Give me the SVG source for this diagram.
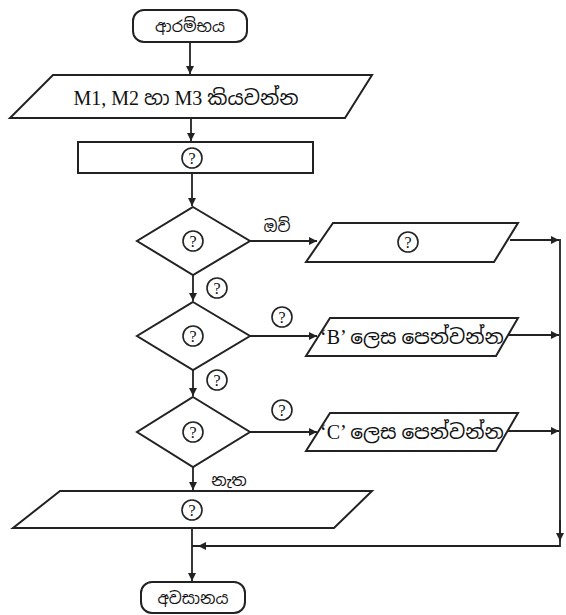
<svg xmlns="http://www.w3.org/2000/svg" width="566" height="615" viewBox="0 0 566 615">
<style>
.s{fill:#fff;stroke:#222;stroke-width:2}
.c{fill:none;stroke:#222;stroke-width:1.8}
.q{fill:none;stroke:#222;stroke-width:1.6}
.t{font-family:"Noto Sans Sinhala","Noto Serif Sinhala","Iskoola Pota","Liberation Serif",serif;fill:#111;text-anchor:middle;dominant-baseline:central}
.m{font-family:"Liberation Serif","Noto Sans Sinhala",serif;font-size:20px;fill:#111;text-anchor:middle;dominant-baseline:central}
.qt{font-family:"Liberation Serif",serif;font-size:16px;fill:#111;text-anchor:middle;dominant-baseline:central}
</style>
<defs>
<marker id="ah" viewBox="0 0 10 10" refX="10" refY="5" markerWidth="8" markerHeight="8" orient="auto" markerUnits="userSpaceOnUse">
<path d="M0,0 L10,5 L0,10 Z" fill="#222"/>
</marker>
<g id="qm"><circle r="10" class="q"/><text class="qt" y="0.5">?</text></g>
</defs>
<rect width="566" height="615" fill="#fff"/>
<g id="connectors">
<line class="c" x1="190" y1="42" x2="190" y2="74" marker-end="url(#ah)"/>
<line class="c" x1="191" y1="119" x2="191" y2="141" marker-end="url(#ah)"/>
<line class="c" x1="192" y1="173" x2="192" y2="206" marker-end="url(#ah)"/>
<line class="c" x1="193" y1="275" x2="193" y2="301" marker-end="url(#ah)"/>
<line class="c" x1="193" y1="370" x2="193" y2="396" marker-end="url(#ah)"/>
<line class="c" x1="193" y1="467" x2="193" y2="490" marker-end="url(#ah)"/>
<line class="c" x1="192" y1="528" x2="192" y2="581" marker-end="url(#ah)"/>
<line class="c" x1="250" y1="241" x2="317" y2="241" marker-end="url(#ah)"/>
<line class="c" x1="250" y1="336" x2="317" y2="336" marker-end="url(#ah)"/>
<line class="c" x1="250" y1="432" x2="317" y2="432" marker-end="url(#ah)"/>
<line class="c" x1="510" y1="240" x2="559" y2="240" marker-end="url(#ah)"/>
<line class="c" x1="505" y1="335" x2="559" y2="335" marker-end="url(#ah)"/>
<line class="c" x1="505" y1="431" x2="559" y2="431" marker-end="url(#ah)"/>
<polyline class="c" points="560,239 560,546 192,546"/>
<line class="c" x1="560" y1="520" x2="560" y2="541" marker-end="url(#ah)"/>
<line class="c" x1="230" y1="546" x2="198" y2="546" marker-end="url(#ah)"/>
</g>
<g id="start">
<rect class="s" x="133" y="10" width="114" height="32" rx="11"/>
<text class="t" x="190" y="26" font-size="16">ආරම්භය</text>
</g>
<g id="input">
<polygon class="s" points="53,75 372,75 345,118 10,118"/>
<text class="m" x="186" y="98">M1, M2 හා M3 කියවන්න</text>
</g>
<g id="process">
<rect class="s" x="78" y="142" width="235" height="31"/>
<use href="#qm" x="192" y="158"/>
</g>
<g id="dec1">
<polygon class="s" points="193,207 250,241 193,275 137,241"/>
<use href="#qm" x="193" y="241"/>
</g>
<g id="out1">
<polygon class="s" points="333,223 518,223 494,262 306,262"/>
<use href="#qm" x="408" y="242"/>
</g>
<g id="dec2">
<polygon class="s" points="193,302 250,336 193,370 137,336"/>
<use href="#qm" x="193" y="336"/>
</g>
<g id="out2">
<polygon class="s" points="330,318 518,318 496,356 306,356"/>
<text class="m" x="412" y="337" font-size="19px">‘B’ ලෙස පෙන්වන්න</text>
</g>
<g id="dec3">
<polygon class="s" points="193,397 250,432 193,467 137,432"/>
<use href="#qm" x="193" y="432"/>
</g>
<g id="out3">
<polygon class="s" points="330,413 518,413 496,451 306,451"/>
<text class="m" x="412" y="432" font-size="19px">‘C’ ලෙස පෙන්වන්න</text>
</g>
<g id="out4">
<polygon class="s" points="60,491 372,491 334,528 13,528"/>
<use href="#qm" x="192" y="510"/>
</g>
<g id="end">
<rect class="s" x="141" y="582" width="104" height="31" rx="11"/>
<text class="t" x="193" y="598" font-size="16">අවසානය</text>
</g>
<g id="labels">
<text class="t" x="277" y="226" font-size="16">ඔව්</text>
<use href="#qm" x="217" y="288"/>
<use href="#qm" x="282" y="317"/>
<use href="#qm" x="217" y="380"/>
<use href="#qm" x="282" y="410"/>
<text class="t" x="229" y="480" font-size="16">නැත</text>
</g>
</svg>
